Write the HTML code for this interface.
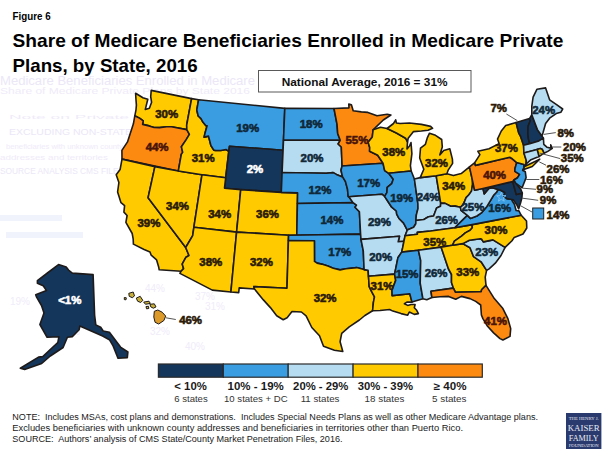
<!DOCTYPE html>
<html><head><meta charset="utf-8"><style>
html,body{margin:0;padding:0;background:#fff;}
body{width:608px;height:455px;overflow:hidden;position:relative;font-family:"Liberation Sans",sans-serif;}
svg{position:absolute;left:0;top:0;}
</style></head><body>
<svg width="608" height="455" viewBox="0 0 608 455">
<g font-family="Liberation Sans, sans-serif" fill="#ebe7f7">
<text x="0" y="85" font-size="12" textLength="255" lengthAdjust="spacingAndGlyphs">Medicare Beneficiaries Enrolled in Medicare</text>
<text x="0" y="94" font-size="9" fill="#efebf9" textLength="250" lengthAdjust="spacingAndGlyphs">Share of Medicare Private Plans by State 2016</text>
<text x="9" y="118.5" font-size="6" fill="#efebf9" textLength="120" lengthAdjust="spacingAndGlyphs">Note   on   Private</text>
<text x="9" y="135.4" font-size="9" textLength="123" lengthAdjust="spacingAndGlyphs">EXCLUDING NON-STATE</text>
<text x="6" y="149" font-size="7" fill="#efebf9" textLength="117" lengthAdjust="spacingAndGlyphs">beneficiaries with unknown county</text>
<text x="0" y="160" font-size="7" fill="#efebf9" textLength="108" lengthAdjust="spacingAndGlyphs">addresses and territories</text>
<text x="0" y="174" font-size="9" textLength="145" lengthAdjust="spacingAndGlyphs">SOURCE ANALYSIS CMS FILES 2016</text>
</g>
<g fill="#f0f3fb"><rect x="0" y="215" width="62" height="6"/><rect x="6" y="232" width="77" height="6"/></g>
<g font-family="Liberation Sans, sans-serif" fill="#f0ecf9" font-size="10">
<text x="145" y="292">44%</text><text x="195" y="300">37%</text><text x="205" y="310">31%</text><text x="150" y="335">32%</text><text x="185" y="350">40%</text><text x="60" y="335">17%</text><text x="10" y="305">19%</text>
</g>
<g font-family="Liberation Sans, sans-serif" fill="#000">
<text x="12.6" y="19.7" font-size="10.5" font-weight="bold" textLength="38" lengthAdjust="spacingAndGlyphs">Figure 6</text>
<text x="12.6" y="46.8" font-size="18.5" font-weight="bold" textLength="550.8" lengthAdjust="spacingAndGlyphs">Share of Medicare Beneficiaries Enrolled in Medicare Private</text>
<text x="12.6" y="71.6" font-size="18.5" font-weight="bold" textLength="185" lengthAdjust="spacingAndGlyphs">Plans, by State, 2016</text>
</g>
<rect x="258.5" y="70.5" width="212.5" height="21.5" fill="#fff" stroke="#595959" stroke-width="1"/>
<text x="281.7" y="85.9" font-family="Liberation Sans, sans-serif" font-size="11.2" font-weight="bold" fill="#111" textLength="165.8" lengthAdjust="spacingAndGlyphs">National Average, 2016 = 31%</text>
<g stroke="#1e1a1a" stroke-width="1.6" stroke-linejoin="round">
<path d="M135.6,93.2 142.9,97.8 147.8,99.2 145.3,109.4 149.4,108.2 151.6,102.3 150.7,96.7 151.2,90.4 191.6,98.6 186.7,125.0 186.8,129.6 171.4,126.8 166.7,126.7 159.5,127.6 154.1,127.5 149.0,125.9 142.6,124.4 143.2,120.8 139.9,118.4 134.8,115.8 136.0,109.8 136.4,105.1 135.9,98.5Z" fill="#ffcb00"/><path d="M134.8,115.8 139.9,118.4 143.2,120.8 142.6,124.4 149.0,125.9 154.1,127.5 159.5,127.6 166.7,126.7 171.4,126.8 186.8,129.6 189.4,134.3 185.9,140.1 181.4,146.8 182.7,152.4 181.3,154.3 178.3,171.0 122.0,159.1 121.9,150.4 127.5,141.9 133.4,123.8Z" fill="#fc8a10"/><path d="M122.0,159.1 154.9,166.6 148.1,197.7 185.7,247.5 189.0,255.5 186.0,257.2 182.2,264.1 183.6,268.6 181.1,271.2 159.2,269.8 158.6,266.7 156.6,259.9 151.2,255.2 150.0,251.9 144.1,249.5 133.4,244.1 133.2,239.2 132.2,233.5 125.9,222.3 127.1,215.5 123.9,212.1 124.6,205.7 121.0,202.7 117.6,192.0 118.9,182.5 116.2,174.8 120.1,169.6Z" fill="#ffcb00"/><path d="M154.9,166.6 178.3,171.0 202.0,174.7 193.9,227.2 192.7,235.6 185.7,247.5 148.1,197.7Z" fill="#ffcb00"/><path d="M191.6,98.6 198.6,99.7 196.8,110.0 198.2,116.0 201.0,118.6 202.9,122.1 205.9,125.7 207.1,125.8 205.2,132.5 204.1,137.1 208.5,136.1 210.9,145.5 213.8,150.2 215.3,150.4 220.8,150.5 226.0,149.5 228.8,151.4 225.7,177.7 202.0,174.7 178.3,171.0 181.3,154.3 182.7,152.4 181.4,146.8 185.9,140.1 189.4,134.3 186.8,129.6 186.7,125.0Z" fill="#ffcb00"/><path d="M198.6,99.7 284.8,108.4 283.5,140.3 283.0,150.2 229.5,146.2 228.8,151.4 226.0,149.5 220.8,150.5 215.3,150.4 213.8,150.2 210.9,145.5 208.5,136.1 204.1,137.1 205.2,132.5 207.1,125.8 205.9,125.7 202.9,122.1 201.0,118.6 198.2,116.0 196.8,110.0Z" fill="#3a9de2"/><path d="M229.5,146.2 283.0,150.2 282.2,171.3 281.3,192.4 224.5,188.2 225.7,177.7 228.8,151.4Z" fill="#15365b"/><path d="M202.0,174.7 225.7,177.7 224.5,188.2 240.7,189.8 236.6,232.1 193.9,227.2Z" fill="#ffcb00"/><path d="M193.9,227.2 236.6,232.1 230.9,292.0 212.3,290.1 179.9,273.4 181.1,271.2 183.6,268.6 182.2,264.1 186.0,257.2 189.0,255.5 185.7,247.5 192.7,235.6Z" fill="#ffcb00"/><path d="M240.7,189.8 281.3,192.4 297.6,192.9 297.4,203.5 296.8,235.4 288.6,235.2 236.6,232.1Z" fill="#ffcb00"/><path d="M236.6,232.1 288.6,235.2 288.4,240.5 287.0,288.2 253.8,286.6 254.5,289.0 239.2,287.9 238.7,292.6 230.9,292.0Z" fill="#ffcb00"/><path d="M284.8,108.4 334.0,108.5 337.0,124.1 337.7,133.5 340.2,140.3 283.5,140.3Z" fill="#3a9de2"/><path d="M283.5,140.3 340.2,140.3 338.1,144.0 341.3,147.0 342.1,166.0 341.0,170.3 342.5,176.7 342.5,177.1 336.4,174.4 333.2,172.6 326.1,173.3 282.1,172.5Z" fill="#b6dcf2"/><path d="M282.1,172.5 326.1,173.3 333.2,172.6 336.4,174.4 342.5,177.1 342.5,176.7 345.5,181.7 347.5,189.1 348.2,196.5 348.9,196.7 353.0,202.6 297.4,203.5 297.6,192.9 281.3,192.4Z" fill="#3a9de2"/><path d="M297.4,203.5 353.0,202.6 356.5,205.1 355.0,207.3 359.4,211.8 360.6,234.1 296.8,235.4Z" fill="#3a9de2"/><path d="M288.6,235.2 360.6,234.1 361.0,239.4 363.3,251.0 364.1,269.6 356.6,267.6 345.9,268.8 340.1,269.9 333.3,268.2 327.9,266.1 321.6,264.1 317.1,263.1 314.5,261.4 314.4,240.8 288.4,240.5Z" fill="#3a9de2"/><path d="M288.4,240.5 314.4,240.8 314.5,261.4 317.1,263.1 321.6,264.1 327.9,266.1 333.3,268.2 340.1,269.9 345.9,268.8 356.6,267.6 364.1,269.6 368.1,270.3 368.5,276.2 369.2,286.7 371.8,291.8 374.5,296.9 373.4,302.3 372.6,310.8 364.9,315.5 359.4,320.0 349.2,326.8 341.7,333.3 340.1,341.7 342.8,351.5 334.4,350.2 323.5,346.2 319.5,335.8 311.8,327.5 306.1,315.9 301.4,312.0 292.0,311.5 287.1,317.7 283.2,319.7 276.7,315.8 270.4,307.6 263.4,299.9 254.5,289.0 253.8,286.6 287.0,288.2Z" fill="#ffcb00"/><path d="M334.0,108.5 349.0,107.9 348.8,104.0 351.4,104.7 353.2,110.8 361.3,111.9 367.9,112.4 377.0,115.8 387.2,114.3 390.9,115.0 383.3,120.0 377.2,125.8 373.1,129.8 372.3,136.9 368.1,142.3 369.7,147.5 369.6,151.2 377.7,155.3 383.0,163.3 342.1,166.0 341.3,147.0 338.1,144.0 340.2,140.3 337.7,133.5 337.0,124.1Z" fill="#fc8a10"/><path d="M342.1,166.0 383.0,163.3 384.7,170.6 388.7,173.3 393.2,179.3 391.7,183.7 387.2,187.4 386.9,192.7 384.6,196.4 381.9,194.2 348.9,196.7 348.2,196.5 347.5,189.1 345.5,181.7 342.5,176.7 341.0,170.3Z" fill="#3a9de2"/><path d="M348.9,196.7 381.9,194.2 384.6,196.4 387.8,201.2 391.7,207.2 396.3,211.0 396.7,214.2 398.8,218.2 403.6,223.1 407.3,230.1 405.1,235.7 404.0,241.2 398.2,241.8 399.5,236.3 361.0,239.4 360.6,234.1 359.4,211.8 355.0,207.3 356.5,205.1 353.0,202.6Z" fill="#b6dcf2"/><path d="M361.0,239.4 399.5,236.3 398.2,241.8 404.0,241.2 402.9,246.7 401.7,252.1 397.9,257.8 394.6,274.1 368.5,276.2 368.1,270.3 364.1,269.6 363.3,251.0Z" fill="#b6dcf2"/><path d="M368.5,276.2 394.6,274.1 395.7,280.4 392.0,290.3 392.1,295.6 409.8,293.8 412.0,302.1 406.9,302.1 404.4,303.7 407.7,305.4 411.0,304.5 415.1,304.5 414.3,307.8 416.7,310.3 418.4,313.6 414.3,314.4 409.3,312.0 407.7,315.2 401.1,313.6 392.9,311.1 389.6,309.5 380.0,310.5 372.6,310.8 373.4,302.3 374.5,296.9 371.8,291.8 369.2,286.7Z" fill="#ffcb00"/><path d="M373.1,129.8 380.5,127.2 387.1,128.5 396.4,133.0 405.6,138.2 407.5,142.0 407.0,149.0 409.5,146.0 411.0,142.5 411.9,153.7 410.4,165.6 411.2,171.0 388.7,173.3 384.7,170.6 383.0,163.3 377.7,155.3 369.6,151.2 369.7,147.5 368.1,142.3 372.3,136.9Z" fill="#ffcb00"/><path d="M388.7,173.3 411.2,171.0 414.4,179.0 417.9,203.7 418.0,208.5 416.3,215.1 415.9,220.5 415.8,223.8 413.6,227.3 407.3,230.1 403.6,223.1 398.8,218.2 396.7,214.2 396.3,211.0 391.7,207.2 387.8,201.2 384.6,196.4 386.9,192.7 387.2,187.4 391.7,183.7 393.2,179.3Z" fill="#3a9de2"/><path d="M414.4,179.0 420.2,177.6 436.2,175.8 440.7,203.1 440.5,206.3 436.6,208.0 433.6,216.0 428.5,216.7 423.8,219.5 415.9,220.5 416.3,215.1 418.0,208.5 417.9,203.7Z" fill="#b6dcf2"/><path d="M436.2,175.8 446.9,173.8 453.4,175.6 461.2,173.6 469.5,166.8 472.5,180.7 472.6,184.4 471.5,191.1 468.9,194.8 466.1,197.6 463.3,204.6 460.4,207.3 455.0,206.1 450.7,206.3 445.1,203.4 440.7,203.1Z" fill="#ffcb00"/><path d="M420.2,177.6 436.2,175.8 446.9,173.8 448.2,170.1 452.6,163.4 452.4,159.1 449.8,148.8 443.7,150.4 439.8,154.9 442.3,146.9 441.7,139.5 435.5,135.3 429.5,133.2 427.4,137.6 425.4,144.3 420.5,148.2 419.7,158.0 423.8,169.2ZM387.1,128.5 396.4,133.0 405.6,138.2 407.5,142.0 408.2,138.2 413.5,131.6 421.4,131.0 428.0,130.2 432.6,128.3 430.6,126.4 421.4,124.4 409.5,123.0 400.0,123.5 396.4,123.0 395.7,119.8 393.5,123.5Z" fill="#ffcb00"/><path d="M407.3,230.1 413.6,227.3 415.8,223.8 415.9,220.5 423.8,219.5 428.5,216.7 433.6,216.0 436.6,208.0 440.5,206.3 440.7,203.1 445.1,203.4 450.7,206.3 455.0,206.1 460.4,207.3 461.0,210.4 467.4,215.4 462.8,219.8 454.8,227.7 430.7,231.0 417.3,232.4 417.4,234.3 405.1,235.7Z" fill="#b6dcf2"/><path d="M405.1,235.7 417.4,234.3 417.3,232.4 430.7,231.0 454.8,227.7 472.1,224.6 472.3,227.8 470.1,230.3 465.3,232.9 461.5,236.2 454.4,241.2 452.5,245.3 441.1,247.1 418.4,250.2 401.7,252.1 402.9,246.7 404.0,241.2Z" fill="#ffcb00"/><path d="M401.7,252.1 418.4,250.2 420.7,260.6 420.2,283.1 422.9,298.7 412.0,302.1 409.8,293.8 392.1,295.6 392.0,290.3 395.7,280.4 394.6,274.1 397.9,257.8Z" fill="#3a9de2"/><path d="M418.4,250.2 441.1,247.1 448.5,269.0 451.5,274.5 451.5,282.5 453.4,288.1 431.0,291.3 431.9,297.5 426.8,299.8 422.9,298.7 420.2,283.1 420.7,260.6Z" fill="#b6dcf2"/><path d="M441.1,247.1 452.5,245.3 462.8,243.6 470.0,247.7 473.6,256.7 481.1,261.8 486.6,270.4 485.2,277.1 486.0,285.4 481.6,289.7 481.2,291.6 455.3,292.2 453.4,288.1 451.5,282.5 451.5,274.5 448.5,269.0Z" fill="#ffcb00"/><path d="M431.0,291.3 453.4,288.1 455.3,292.2 481.2,291.6 481.6,289.7 486.0,285.4 494.3,298.6 502.9,308.6 507.9,318.6 510.7,328.6 510.0,336.4 502.9,340.0 500.0,338.6 493.6,332.9 487.1,325.7 482.9,318.6 481.4,315.0 480.7,305.0 475.7,301.4 470.0,298.6 461.4,296.4 455.7,299.3 448.6,296.4 440.0,296.8 431.9,297.5Z" fill="#fc8a10"/><path d="M462.8,243.6 469.4,240.2 480.4,238.7 481.5,239.0 483.3,241.9 493.0,239.9 505.1,247.4 501.0,255.5 495.3,263.2 489.1,268.8 486.6,270.4 481.1,261.8 473.6,256.7 470.0,247.7Z" fill="#b6dcf2"/><path d="M452.5,245.3 462.8,243.6 469.4,240.2 480.4,238.7 481.5,239.0 483.3,241.9 493.0,239.9 505.1,247.4 512.0,240.7 514.2,237.4 523.0,234.0 526.8,228.0 526.5,221.0 521.2,215.3 472.1,224.6 472.3,227.8 470.1,230.3 465.3,232.9 461.5,236.2 454.4,241.2Z" fill="#ffcb00"/><path d="M454.8,227.7 472.1,224.6 521.2,215.3 518.9,210.9 516.1,210.5 514.4,204.3 511.4,199.6 513.2,199.7 506.8,198.6 503.9,196.0 504.8,192.5 500.7,190.2 498.2,189.5 496.5,192.2 493.8,195.0 490.7,200.1 486.9,206.4 481.4,212.9 476.9,216.0 470.4,218.4 467.4,215.4 462.8,219.8Z" fill="#3a9de2"/><path d="M472.5,180.7 474.6,190.3 483.0,188.5 484.2,193.9 488.8,188.5 492.4,187.7 498.2,189.5 496.5,192.2 493.8,195.0 490.7,200.1 486.9,206.4 481.4,212.9 476.9,216.0 470.4,218.4 467.4,215.4 461.0,210.4 460.4,207.3 463.3,204.6 466.1,197.6 468.9,194.8 471.5,191.1 472.6,184.4Z" fill="#b6dcf2"/><path d="M483.0,188.5 512.7,181.5 516.3,194.6 522.3,193.0 521.9,197.7 520.6,202.8 518.7,208.8 516.8,204.9 513.2,199.7 506.8,198.6 503.9,196.0 504.8,192.5 500.7,190.2 498.2,189.5 492.4,187.7 488.8,188.5 484.2,193.9Z" fill="#15365b"/><path d="M512.7,181.5 516.3,194.6 522.3,193.0 520.9,189.5 515.0,182.3 515.6,179.9 513.9,180.0Z" fill="#15365b"/><path d="M469.5,166.8 474.8,162.6 475.4,165.4 509.7,157.3 512.3,158.8 516.7,162.6 515.0,168.5 514.9,171.3 519.6,174.4 517.6,177.7 513.9,180.0 512.7,181.5 483.0,188.5 474.6,190.3 472.5,180.7Z" fill="#fc8a10"/><path d="M516.7,162.6 524.0,164.5 524.1,167.7 522.7,170.3 525.3,171.8 526.1,177.6 522.1,187.8 515.7,183.2 513.9,180.0 517.6,177.7 519.6,174.4 514.9,171.3 515.0,168.5Z" fill="#3a9de2"/><path d="M474.8,162.6 479.9,154.6 477.9,151.3 489.0,148.7 499.1,143.6 497.5,139.1 501.3,131.0 505.7,125.5 516.1,122.6 518.7,132.9 520.7,136.7 523.6,145.3 523.9,152.9 526.3,160.5 526.0,164.1 524.6,166.5 538.7,159.7 539.7,159.2 532.3,166.5 524.5,169.3 522.7,170.3 524.1,167.7 524.0,164.5 516.7,162.6 512.3,158.8 509.7,157.3 475.4,165.4Z" fill="#ffcb00"/><path d="M516.1,122.6 529.6,118.6 530.3,120.7 528.1,126.3 527.9,133.5 528.4,138.9 529.8,143.7 523.6,145.3 520.7,136.7 518.7,132.9Z" fill="#15365b"/><path d="M529.6,118.6 531.8,114.7 537.4,129.6 541.9,136.0 543.4,138.1 538.9,140.9 529.8,143.7 528.4,138.9 527.9,133.5 528.1,126.3 530.3,120.7Z" fill="#15365b"/><path d="M531.8,114.7 531.8,106.4 533.1,97.1 537.0,89.2 545.6,87.9 549.6,99.8 556.2,104.4 562.7,109.0 560.8,112.3 556.2,113.6 549.6,118.2 545.6,123.5 543.0,132.7 541.9,136.0 537.4,129.6Z" fill="#b6dcf2"/><path d="M529.8,143.7 538.9,140.9 543.4,138.1 543.8,144.3 546.9,147.2 551.0,148.1 550.7,144.9 552.3,148.3 547.8,151.4 544.0,153.2 542.1,149.2 540.3,148.5 537.1,149.4 523.9,152.9 523.6,145.3Z" fill="#b6dcf2"/><path d="M544.0,153.2 542.1,149.2 540.3,148.5 537.1,149.4 539.0,156.6Z" fill="#ffcb00"/><path d="M537.1,149.4 523.9,152.9 526.3,160.5 526.0,164.1 531.0,159.7 539.0,156.6Z" fill="#b6dcf2"/><path d="M58.5,264.6 66.2,266.9 68.5,270 72.3,273.1 93.1,274.6 94.6,315 95.8,324.9 100.7,327.3 103.2,331 109.4,332.3 120.5,347.1 127.9,352 127.3,357.6 118,358.2 113.1,345.9 109.4,339.7 102.6,336 79.8,326.1 79.1,329.8 72.3,336.6 67.4,337.2 63.1,347.5 50.3,356 41.7,363.5 24.6,369.4 20.3,368.3 38.5,357.1 42.8,356.6 52.4,347.5 57.8,342.6 58.9,336.8 47.1,337.3 39.9,324.5 44,312.9 41.5,305.5 36.6,297.2 35.7,294.8 46.5,290.6 43.2,285.7 37.4,283.2 37.4,280.7 48.1,272.5Z" fill="#15365b"/><path d="M124.3,297.5 126.3,297.8 126,299.8 124.3,299.6Z" fill="#c9b03a" stroke-width="1"/><path d="M128.8,293.3 133.2,292 134.5,295.9 132.3,297.7 129.2,296.3Z" fill="#c9b03a" stroke-width="1"/><path d="M136.3,298.1 140.2,296.3 142.8,300.3 140.7,302.5 137.6,301.2Z" fill="#c9b03a" stroke-width="1"/><path d="M143.7,302.1 149,301.2 150.3,303.4 145.5,304.3Z" fill="#c9b03a" stroke-width="1"/><path d="M146,306.5 148.5,306.3 148.8,308.5 146.5,308.8Z" fill="#c9b03a" stroke-width="1"/><path d="M149.9,304.3 154.3,303.8 156,306.9 153.4,308.2 150.8,306.9Z" fill="#c9b03a" stroke-width="1"/><path d="M154.3,311.3 157.8,310 162.2,312.2 165.7,316.1 163.9,320.5 158.7,324 155.1,322.3 153.8,317Z" fill="#dc9a2a" stroke-width="1"/>
</g>
<path d="M501.3,192.2 L502.5,195.6 L506,195.7 L503.2,197.8 L504.2,201.2 L501.3,199.2 L498.4,201.2 L499.4,197.8 L496.6,195.7 L500.1,195.6Z" fill="none" stroke="#7cc0f0" stroke-width="1"/>
<rect x="532.7" y="208" width="11" height="11" fill="#3a9de2" stroke="#222" stroke-width="1"/>
<g stroke="#555" stroke-width="1"><line x1="506.4" y1="114" x2="517.4" y2="120.7"/><line x1="543.7" y1="134.4" x2="555.8" y2="132.6"/><line x1="552.5" y1="147" x2="561.3" y2="147"/><line x1="539.3" y1="153" x2="560.2" y2="158.6"/><line x1="539.3" y1="161.9" x2="546" y2="165.2"/><line x1="526.2" y1="179.5" x2="539.3" y2="179.5"/><line x1="522.9" y1="188.2" x2="536" y2="189.3"/><line x1="521.8" y1="198.1" x2="538.2" y2="200.3"/><line x1="520.7" y1="205.8" x2="532.7" y2="212.4"/><line x1="166" y1="317.8" x2="175.8" y2="319.5"/></g>
<g font-family="Liberation Sans, sans-serif" font-size="11.8" font-weight="bold" text-anchor="middle">
<text x="166.7" y="117.9" fill="#2b1a08" stroke="#2b1a08" stroke-width="0.6" textLength="22.9" lengthAdjust="spacingAndGlyphs">30%</text><text x="157.1" y="150.9" fill="#4a1408" stroke="#4a1408" stroke-width="0.6" textLength="22.9" lengthAdjust="spacingAndGlyphs">44%</text><text x="247.7" y="131.8" fill="#102838" stroke="#102838" stroke-width="0.6" textLength="22.9" lengthAdjust="spacingAndGlyphs">19%</text><text x="203.2" y="162.4" fill="#2b1a08" stroke="#2b1a08" stroke-width="0.6" textLength="22.9" lengthAdjust="spacingAndGlyphs">31%</text><text x="255.0" y="173.0" fill="#ffffff" stroke="#ffffff" stroke-width="0.6" textLength="16.5" lengthAdjust="spacingAndGlyphs">2%</text><text x="148.9" y="227.3" fill="#2b1a08" stroke="#2b1a08" stroke-width="0.6" textLength="22.9" lengthAdjust="spacingAndGlyphs">39%</text><text x="177.5" y="209.9" fill="#2b1a08" stroke="#2b1a08" stroke-width="0.6" textLength="22.9" lengthAdjust="spacingAndGlyphs">34%</text><text x="219.7" y="218.1" fill="#2b1a08" stroke="#2b1a08" stroke-width="0.6" textLength="22.9" lengthAdjust="spacingAndGlyphs">34%</text><text x="267.5" y="218.1" fill="#2b1a08" stroke="#2b1a08" stroke-width="0.6" textLength="22.9" lengthAdjust="spacingAndGlyphs">36%</text><text x="311.2" y="127.8" fill="#102838" stroke="#102838" stroke-width="0.6" textLength="22.9" lengthAdjust="spacingAndGlyphs">18%</text><text x="312.0" y="162.1" fill="#102838" stroke="#102838" stroke-width="0.6" textLength="22.9" lengthAdjust="spacingAndGlyphs">20%</text><text x="356.9" y="143.6" fill="#4a1408" stroke="#4a1408" stroke-width="0.6" textLength="22.9" lengthAdjust="spacingAndGlyphs">55%</text><text x="393.8" y="156.0" fill="#2b1a08" stroke="#2b1a08" stroke-width="0.6" textLength="22.9" lengthAdjust="spacingAndGlyphs">38%</text><text x="319.9" y="194.3" fill="#102838" stroke="#102838" stroke-width="0.6" textLength="22.9" lengthAdjust="spacingAndGlyphs">12%</text><text x="368.7" y="186.9" fill="#102838" stroke="#102838" stroke-width="0.6" textLength="22.9" lengthAdjust="spacingAndGlyphs">17%</text><text x="401.7" y="202.2" fill="#102838" stroke="#102838" stroke-width="0.6" textLength="22.9" lengthAdjust="spacingAndGlyphs">19%</text><text x="436.5" y="167.3" fill="#2b1a08" stroke="#2b1a08" stroke-width="0.6" textLength="22.9" lengthAdjust="spacingAndGlyphs">32%</text><text x="453.7" y="189.8" fill="#2b1a08" stroke="#2b1a08" stroke-width="0.6" textLength="22.9" lengthAdjust="spacingAndGlyphs">34%</text><text x="428.1" y="201.1" fill="#102838" stroke="#102838" stroke-width="0.6" textLength="22.9" lengthAdjust="spacingAndGlyphs">24%</text><text x="472.9" y="210.9" fill="#102838" stroke="#102838" stroke-width="0.6" textLength="22.9" lengthAdjust="spacingAndGlyphs">25%</text><text x="499.8" y="212.2" fill="#102838" stroke="#102838" stroke-width="0.6" textLength="22.9" lengthAdjust="spacingAndGlyphs">16%</text><text x="506.4" y="152.0" fill="#2b1a08" stroke="#2b1a08" stroke-width="0.6" textLength="22.9" lengthAdjust="spacingAndGlyphs">37%</text><text x="494.6" y="179.2" fill="#4a1408" stroke="#4a1408" stroke-width="0.6" textLength="22.9" lengthAdjust="spacingAndGlyphs">40%</text><text x="379.4" y="225.7" fill="#102838" stroke="#102838" stroke-width="0.6" textLength="22.9" lengthAdjust="spacingAndGlyphs">29%</text><text x="331.9" y="223.6" fill="#102838" stroke="#102838" stroke-width="0.6" textLength="22.9" lengthAdjust="spacingAndGlyphs">14%</text><text x="339.8" y="255.8" fill="#102838" stroke="#102838" stroke-width="0.6" textLength="22.9" lengthAdjust="spacingAndGlyphs">17%</text><text x="380.7" y="260.5" fill="#102838" stroke="#102838" stroke-width="0.6" textLength="22.9" lengthAdjust="spacingAndGlyphs">20%</text><text x="407.1" y="277.7" fill="#102838" stroke="#102838" stroke-width="0.6" textLength="22.9" lengthAdjust="spacingAndGlyphs">15%</text><text x="436.1" y="276.9" fill="#102838" stroke="#102838" stroke-width="0.6" textLength="22.9" lengthAdjust="spacingAndGlyphs">26%</text><text x="467.8" y="276.3" fill="#2b1a08" stroke="#2b1a08" stroke-width="0.6" textLength="22.9" lengthAdjust="spacingAndGlyphs">33%</text><text x="446.6" y="223.6" fill="#102838" stroke="#102838" stroke-width="0.6" textLength="22.9" lengthAdjust="spacingAndGlyphs">26%</text><text x="434.8" y="246.0" fill="#2b1a08" stroke="#2b1a08" stroke-width="0.6" textLength="22.9" lengthAdjust="spacingAndGlyphs">35%</text><text x="382.0" y="290.1" fill="#2b1a08" stroke="#2b1a08" stroke-width="0.6" textLength="22.9" lengthAdjust="spacingAndGlyphs">31%</text><text x="261.4" y="266.3" fill="#2b1a08" stroke="#2b1a08" stroke-width="0.6" textLength="22.9" lengthAdjust="spacingAndGlyphs">32%</text><text x="325.1" y="301.6" fill="#2b1a08" stroke="#2b1a08" stroke-width="0.6" textLength="22.9" lengthAdjust="spacingAndGlyphs">32%</text><text x="210.8" y="266.3" fill="#2b1a08" stroke="#2b1a08" stroke-width="0.6" textLength="22.9" lengthAdjust="spacingAndGlyphs">38%</text><text x="486.8" y="256.1" fill="#102838" stroke="#102838" stroke-width="0.6" textLength="22.9" lengthAdjust="spacingAndGlyphs">23%</text><text x="495.5" y="325.0" fill="#4a1408" stroke="#4a1408" stroke-width="0.6" textLength="22.9" lengthAdjust="spacingAndGlyphs">41%</text><text x="496.0" y="234.0" fill="#2b1a08" stroke="#2b1a08" stroke-width="0.6" textLength="22.9" lengthAdjust="spacingAndGlyphs">30%</text><text x="543.7" y="114.3" fill="#102838" stroke="#102838" stroke-width="0.6" textLength="22.9" lengthAdjust="spacingAndGlyphs">24%</text><text x="498.7" y="111.5" fill="#2b1a08" stroke="#2b1a08" stroke-width="0.6" textLength="16.5" lengthAdjust="spacingAndGlyphs">7%</text><text x="565.7" y="136.6" fill="#2b1a08" stroke="#2b1a08" stroke-width="0.6" textLength="16.5" lengthAdjust="spacingAndGlyphs">8%</text><text x="574.5" y="150.5" fill="#2b1a08" stroke="#2b1a08" stroke-width="0.6" textLength="22.9" lengthAdjust="spacingAndGlyphs">20%</text><text x="572.3" y="162.1" fill="#2b1a08" stroke="#2b1a08" stroke-width="0.6" textLength="22.9" lengthAdjust="spacingAndGlyphs">35%</text><text x="558.0" y="172.5" fill="#2b1a08" stroke="#2b1a08" stroke-width="0.6" textLength="22.9" lengthAdjust="spacingAndGlyphs">26%</text><text x="551.4" y="183.5" fill="#2b1a08" stroke="#2b1a08" stroke-width="0.6" textLength="22.9" lengthAdjust="spacingAndGlyphs">16%</text><text x="544.8" y="193.3" fill="#2b1a08" stroke="#2b1a08" stroke-width="0.6" textLength="16.5" lengthAdjust="spacingAndGlyphs">9%</text><text x="548.1" y="204.3" fill="#2b1a08" stroke="#2b1a08" stroke-width="0.6" textLength="16.5" lengthAdjust="spacingAndGlyphs">9%</text><text x="558.0" y="218.6" fill="#2b1a08" stroke="#2b1a08" stroke-width="0.6" textLength="22.9" lengthAdjust="spacingAndGlyphs">14%</text><text x="69.8" y="303.6" fill="#ffffff" stroke="#ffffff" stroke-width="0.6" textLength="23.2" lengthAdjust="spacingAndGlyphs"><1%</text><text x="190.6" y="324.3" fill="#2b1a08" stroke="#2b1a08" stroke-width="0.6" textLength="22.9" lengthAdjust="spacingAndGlyphs">46%</text>
</g>
<g stroke="#2a2a2a" stroke-width="1.2">
<rect x="158.4" y="364" width="64.9" height="13.2" fill="#15365b"/>
<rect x="223.3" y="364" width="64.9" height="13.2" fill="#3a9de2"/>
<rect x="288.2" y="364" width="64.9" height="13.2" fill="#b6dcf2"/>
<rect x="353.1" y="364" width="64.9" height="13.2" fill="#ffcb00"/>
<rect x="418" y="364" width="64.3" height="13.2" fill="#fc8a10"/>
</g>
<g font-family="Liberation Sans, sans-serif" fill="#1a1a1a">
<text x="174.3" y="389.8" font-size="10.5" font-weight="bold" textLength="32.5" lengthAdjust="spacingAndGlyphs">&lt; 10%</text>
<text x="227.6" y="389.8" font-size="10.5" font-weight="bold" textLength="56.2" lengthAdjust="spacingAndGlyphs">10% - 19%</text>
<text x="293.1" y="389.8" font-size="10.5" font-weight="bold" textLength="55.3" lengthAdjust="spacingAndGlyphs">20% - 29%</text>
<text x="357.7" y="389.8" font-size="10.5" font-weight="bold" textLength="55.3" lengthAdjust="spacingAndGlyphs">30% - 39%</text>
<text x="433.7" y="389.8" font-size="10.5" font-weight="bold" textLength="32.8" lengthAdjust="spacingAndGlyphs">≥ 40%</text>
</g>
<g font-family="Liberation Sans, sans-serif" fill="#333" font-size="9.8">
<text x="174.3" y="402.2" textLength="33.4" lengthAdjust="spacingAndGlyphs">6 states</text>
<text x="224" y="402.2" textLength="63.7" lengthAdjust="spacingAndGlyphs">10 states + DC</text>
<text x="300.7" y="402.2" textLength="38.7" lengthAdjust="spacingAndGlyphs">11 states</text>
<text x="364.6" y="402.2" textLength="39.8" lengthAdjust="spacingAndGlyphs">18 states</text>
<text x="432" y="402.2" textLength="34.5" lengthAdjust="spacingAndGlyphs">5 states</text>
</g>
<g font-family="Liberation Sans, sans-serif" fill="#1a1a1a" font-size="9.6">
<text xml:space="preserve" x="12.3" y="419.7" textLength="525.7" lengthAdjust="spacingAndGlyphs">NOTE:  Includes MSAs, cost plans and demonstrations.  Includes Special Needs Plans as well as other Medicare Advantage plans.</text>
<text x="12.3" y="430.8" textLength="450.7" lengthAdjust="spacingAndGlyphs">Excludes beneficiaries with unknown county addresses and beneficiaries in territories other than Puerto Rico.</text>
<text xml:space="preserve" x="12.3" y="441.9" textLength="330.2" lengthAdjust="spacingAndGlyphs">SOURCE:  Authors’ analysis of CMS State/County Market Penetration Files, 2016.</text>
</g>
<rect x="566" y="413" width="35.4" height="36" fill="#2b3a6e"/>
<g font-family="Liberation Serif, serif" fill="#e8ecf4" text-anchor="middle">
<text x="583.7" y="420" font-size="3.5" textLength="30" lengthAdjust="spacingAndGlyphs">THE HENRY J.</text>
<text x="583.7" y="431" font-size="9" textLength="32" lengthAdjust="spacingAndGlyphs">KAISER</text>
<text x="583.7" y="440.5" font-size="9" textLength="30" lengthAdjust="spacingAndGlyphs">FAMILY</text>
<text x="583.7" y="446.5" font-size="3.5" textLength="30" lengthAdjust="spacingAndGlyphs">FOUNDATION</text>
</g>
</svg>
</body></html>
